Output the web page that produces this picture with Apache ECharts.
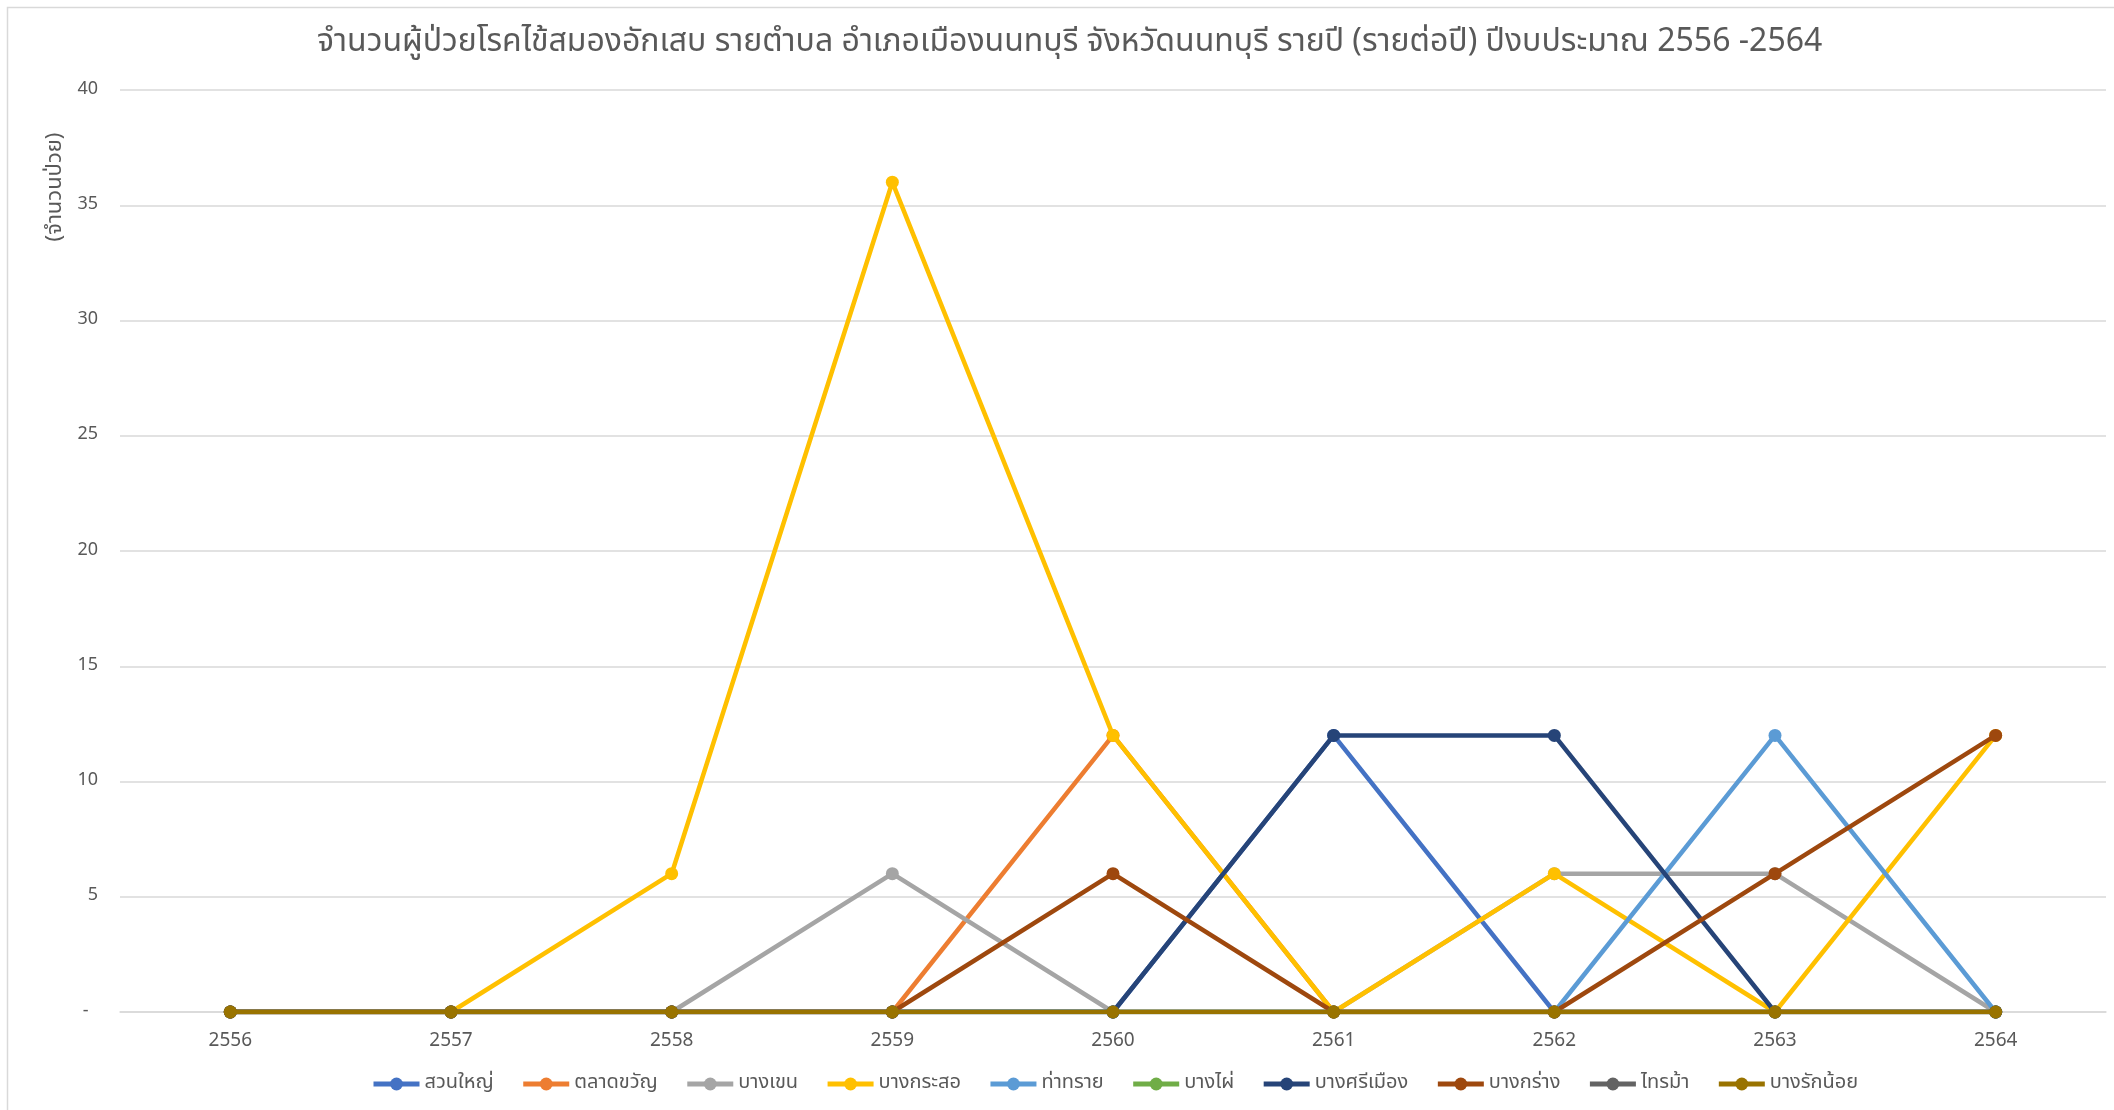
<!DOCTYPE html>
<html>
<head>
<meta charset="utf-8">
<script src="https://cdn.jsdelivr.net/npm/echarts@6/dist/echarts.min.js"></script>
<style>
html,body{margin:0;padding:0;background:#fff;}
#chart{width:2114px;height:1110px;}
</style>
</head>
<body>
<div id="chart"></div>
<script>
var years = ['2556','2557','2558','2559','2560','2561','2562','2563','2564'];
var yTicks = [0,5,10,15,20,25,30,35,40];

var suanYai      = [0,0,0,0,0,12,0,0,0];
var talatKhwan   = [0,0,0,0,12,0,0,0,0];
var bangKhen     = [0,0,0,6,0,0,6,6,0];
var bangKraso    = [0,0,6,36,12,0,6,0,12];
var thaSai       = [0,0,0,0,0,0,0,12,0];
var bangPhai     = [0,0,0,0,0,0,0,0,0];
var bangSiMueang = [0,0,0,0,0,12,12,0,0];
var bangKrang    = [0,0,0,0,6,0,0,6,12];
var saiMa        = [0,0,0,0,0,0,0,0,0];
var bangRakNoi   = [0,0,0,0,0,0,0,0,0];

var seriesNames = ['สวนใหญ่','ตลาดขวัญ','บางเขน','บางกระสอ','ท่าทราย','บางไผ่','บางศรีเมือง','บางกร่าง','ไทรม้า','บางรักน้อย'];
var seriesData = [suanYai,talatKhwan,bangKhen,bangKraso,thaSai,bangPhai,bangSiMueang,bangKrang,saiMa,bangRakNoi];
var colors = ['#4472C4','#ED7D31','#A5A5A5','#FFC000','#5B9BD5','#70AD47','#264478','#9E480E','#636363','#997300'];

var FONT = "'Noto Sans Thai','Noto Sans Thai UI','Leelawadee UI',Tahoma,'Noto Sans',sans-serif";
var TXT = '#595959';

var chart = echarts.init(document.getElementById('chart'), null, {renderer:'canvas'});
chart.setOption({
  animation:false,
  color: colors,
  textStyle:{fontFamily:FONT},
  title:{
    text:'จำนวนผู้ป่วยโรคไข้สมองอักเสบ รายตำบล อำเภอเมืองนนทบุรี จังหวัดนนทบุรี รายปี (รายต่อปี) ปีงบประมาณ 2556 -2564',
    left:312, top:24,
    textStyle:{fontFamily:FONT, fontSize:32, fontWeight:'normal', color:TXT}
  },
  graphic:[
    {type:'rect', shape:{x:7.5,y:7.5,width:2200,height:1200}, style:{fill:null, stroke:'#d9d9d9', lineWidth:1.5}, silent:true},
    {type:'text', x:57, y:187, rotation:Math.PI/2,
     style:{text:'(จำนวนป่วย)', fontFamily:FONT, fontSize:22, fill:TXT, align:'center', verticalAlign:'middle'}}
  ],
  grid:{left:120, right:8, top:90, bottom:98, containLabel:false},
  legend:{
    top:1069, left:366,
    itemWidth:46, itemHeight:16, itemGap:27,
    lineStyle:{width:5},
    textStyle:{fontFamily:FONT, fontSize:20, color:TXT},
    data:seriesNames
  },
  xAxis:{
    type:'category', data:years, boundaryGap:true,
    axisLine:{show:true, lineStyle:{color:'#d9d9d9', width:1.5}},
    axisTick:{show:false},
    axisLabel:{color:TXT, fontSize:19, fontFamily:FONT, margin:21}
  },
  yAxis:{
    type:'value', min:yTicks[0], max:yTicks[yTicks.length-1], interval:5,
    axisLine:{show:false}, axisTick:{show:false},
    splitLine:{lineStyle:{color:'#d9d9d9', width:1.5}},
    axisLabel:{color:TXT, fontSize:18, fontFamily:FONT, margin:22,
      formatter:function(v){ return v===0 ? '-  ' : String(v); }}
  },
  series: seriesNames.map(function(n,i){
    return {
      name:n, type:'line', data:seriesData[i],
      symbol:'circle', symbolSize:13, showSymbol:true,
      lineStyle:{width:4.5, color:colors[i]},
      itemStyle:{color:colors[i]},
      z:2+i
    };
  })
});
</script>
</body>
</html>
